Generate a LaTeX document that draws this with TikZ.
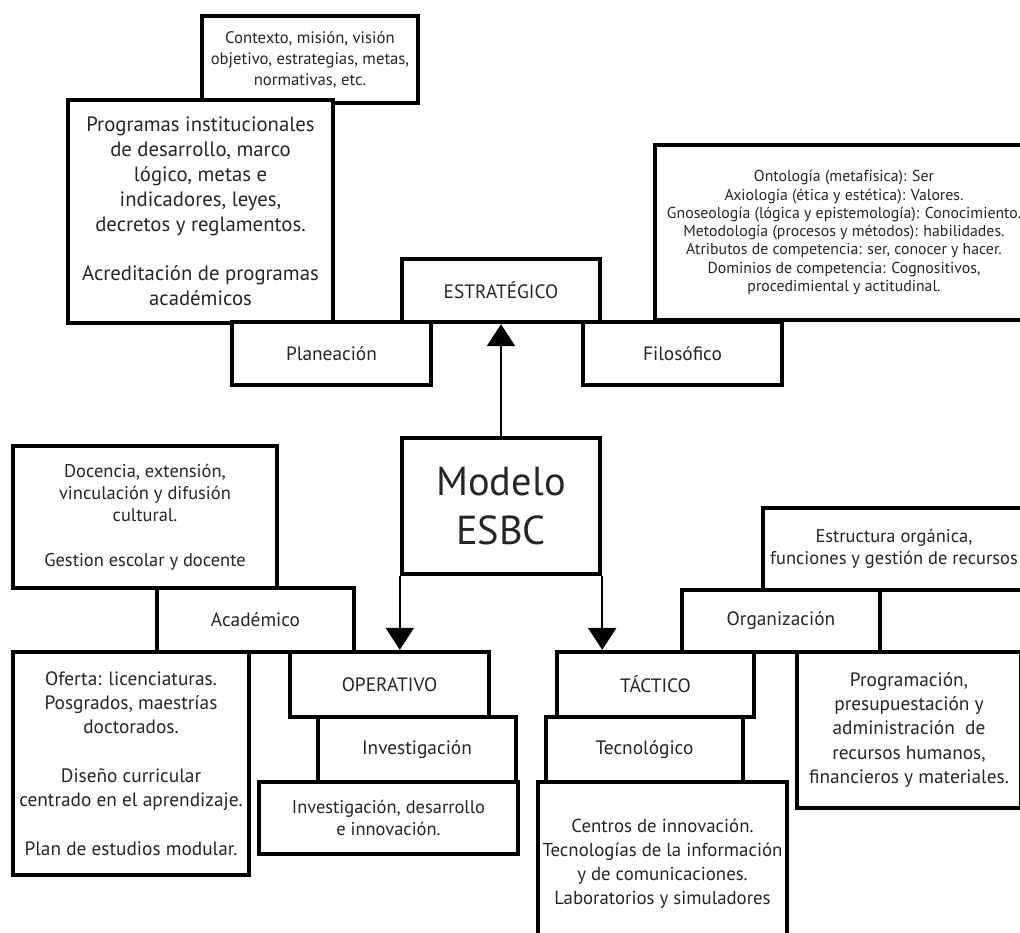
\documentclass[tikz,border=0pt]{standalone}
\usepackage{fontspec}
\setmainfont{PT Sans}
\usetikzlibrary{arrows.meta}

\begin{document}
\begin{tikzpicture}[caja/.style={draw,line width=2.5pt,fill=white,align=center,inner sep=1pt,text=black!85},
   txt/.style={font=\fontsize{11}{13.8}\selectfont},
   txtc/.style={font=\fontsize{10.5}{12.6}\selectfont},
   txtp/.style={font=\fontsize{9.5}{12}\selectfont},
   flecha/.style={line width=1.2pt,-{Triangle[width=16pt,length=12.5pt]}}]
   \useasboundingbox (0,0) rectangle (20.4,-18.66);
   \node[caja,txtp,minimum width=4.32cm,minimum height=1.74cm] (ctx) at (6.20,-1.19)
      {Contexto, misión, visión\\objetivo, estrategias, metas,\\normativas, etc.};
   \node[caja,minimum width=5.30cm,minimum height=4.46cm,font=\fontsize{11.8}{14.2}\selectfont] (prog) at (4.01,-4.23)
      {Programas institucionales\\de desarrollo, marco\\lógico, metas e\\indicadores, leyes,\\decretos y reglamentos.\\[13.8pt]Acreditación de programas\\académicos};
   \node[caja,txt,minimum width=3.98cm,minimum height=1.26cm] (plan) at (6.63,-7.07) {Planeación};
   \node[caja,txt,minimum width=3.96cm,minimum height=1.26cm] (estr) at (10.02,-5.81) {ESTRATÉGICO};
   \node[caja,minimum width=7.56cm,minimum height=3.50cm,font=\fontsize{9}{10.4}\selectfont] (onto) at (16.88,-4.65)
      {Ontología (metafísica): Ser\\Axiología (ética y estética): Valores.\\Gnoseología (lógica y epistemología): Conocimiento.\\Metodología (procesos y métodos): habilidades.\\Atributos de competencia: ser, conocer y hacer.\\Dominios de competencia: Cognositivos,\\procedimiental y actitudinal.};
   \node[caja,txt,minimum width=3.98cm,minimum height=1.26cm] (filo) at (13.65,-7.07) {Filosófico};
   \node[caja,minimum width=3.96cm,minimum height=2.72cm,font=\fontsize{23}{28}\selectfont] (modelo) at (10.02,-10.12) {Modelo\\ESBC};
   \node[caja,txtc,minimum width=5.28cm,minimum height=2.84cm] (doc) at (2.90,-10.34)
      {Docencia, extensión,\\vinculación y difusión\\cultural.\\[12.6pt]Gestion escolar y docente};
   \node[caja,txt,minimum width=3.94cm,minimum height=1.28cm] (acad) at (5.11,-12.40) {Académico};
   \node[caja,txt,minimum width=4.72cm,minimum height=4.46cm] (oferta) at (2.62,-15.27)
      {Oferta: licenciaturas.\\Posgrados, maestrías\\doctorados.\\[13.8pt]Diseño curricular\\centrado en el aprendizaje.\\[13.8pt]Plan de estudios modular.};
   \node[caja,txt,minimum width=3.98cm,minimum height=1.30cm] (oper) at (7.79,-13.69) {OPERATIVO};
   \node[caja,txt,minimum width=3.96cm,minimum height=1.30cm] (inv) at (8.34,-14.99) {Investigación};
   \node[caja,txtc,minimum width=5.18cm,minimum height=1.44cm] (idi) at (7.77,-16.36)
      {Investigación, desarrollo\\e innovación.};
   \node[caja,txtc,minimum width=5.24cm,minimum height=1.64cm] (estru) at (17.88,-10.98)
      {Estructura orgánica,\\funciones y gestión de recursos};
   \node[caja,txt,minimum width=3.96cm,minimum height=1.24cm] (orga) at (15.62,-12.42) {Organización};
   \node[caja,txt,minimum width=3.94cm,minimum height=1.30cm] (tact) at (13.11,-13.69) {TÁCTICO};
   \node[caja,txt,minimum width=3.94cm,minimum height=1.30cm] (tecno) at (12.89,-14.99) {Tecnológico};
   \node[caja,minimum width=4.98cm,minimum height=3.26cm,font=\fontsize{10.7}{13.6}\selectfont] (centros) at (13.25,-17.27)
      {Centros de innovación.\\Tecnologías de la información\\y de comunicaciones.\\Laboratorios y simuladores};
   \node[caja,txt,minimum width=4.48cm,minimum height=3.12cm] (progr) at (18.18,-14.60)
      {Programación,\\presupuestación y\\administración~ de\\recursos humanos,\\financieros y materiales.};
   \draw[flecha] (modelo) -- (estr);
   \draw[flecha] (modelo.south west) -- (modelo.south west |- oper.north);
   \draw[flecha] (modelo.south east) -- (modelo.south east |- tact.north);
\end{tikzpicture}
\end{document}
